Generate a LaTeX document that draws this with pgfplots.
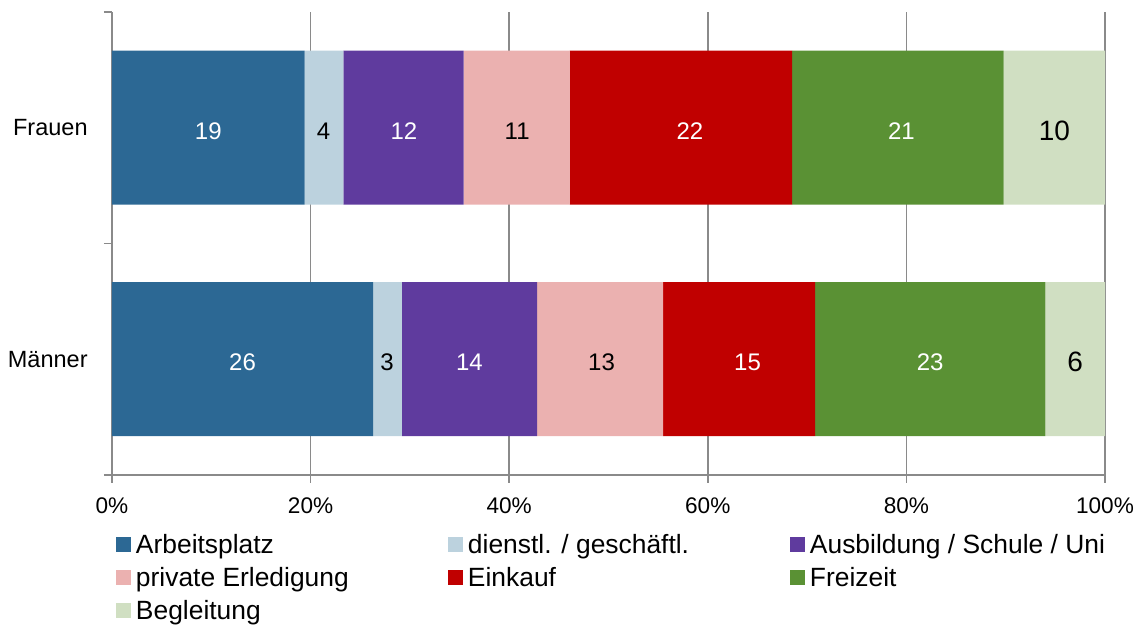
\documentclass[border=0pt]{standalone}
\usepackage{pgfplots}
\pgfplotsset{compat=1.18}
\usepackage{fontspec}
\setmainfont{Liberation Sans}
\definecolor{cArb}{RGB}{44,104,148}
\definecolor{cDie}{RGB}{188,210,222}
\definecolor{cAus}{RGB}{95,59,158}
\definecolor{cPri}{RGB}{235,177,176}
\definecolor{cEin}{RGB}{192,0,0}
\definecolor{cFre}{RGB}{90,145,52}
\definecolor{cBeg}{RGB}{208,223,194}
\definecolor{gridgray}{RGB}{138,138,138}
\begin{document}
\begin{tikzpicture}
\path[use as bounding box] (-56pt,-78pt) rectangle (515pt,237.5pt);
\begin{axis}[
  width=496.5pt, height=231.5pt, scale only axis,
  xbar stacked, bar width=77pt,
  xmin=0, xmax=100, ymin=-0.5, ymax=1.5,
  axis x line*=bottom, axis y line*=left,
  axis line style={draw=gridgray, line width=0.9pt},
  xtick={0,20,40,60,80,100},
  xticklabels={0\%,20\%,40\%,60\%,80\%,100\%},
  xmajorgrids,
  major x grid style={draw=gridgray, line width=0.9pt},
  tick align=outside, major tick length=4pt,
  major x tick style={draw=gridgray, line width=0.9pt},
  ytick={0,1}, yticklabels={Männer,Frauen},
  major y tick style={draw=none},
  minor ytick={-0.5,0.5,1.5},
  minor y tick style={draw=gridgray, line width=0.9pt},
  minor tick length=4pt,
  xticklabel style={font=\fontsize{11.3}{13}\selectfont, inner sep=0pt, anchor=north, yshift=-7pt},
  yticklabel style={font=\fontsize{11.75}{14}\selectfont, inner sep=0pt, anchor=east, xshift=-8pt},
  legend image code/.code={\fill[#1] (0pt,-3.75pt) rectangle (7.5pt,3.75pt);},
  legend style={draw=none, fill=none, inner sep=0pt, outer sep=0pt,
    at={(0,0)}, anchor=north west, xshift=2pt, yshift=-29pt,
    font=\fontsize{13.2}{15}\selectfont,
    legend columns=3, row sep=4.5pt, column sep=0pt,
    cells={anchor=west},
    nodes={inner sep=0pt, text height=10.4pt, text depth=1.6pt},
    /tikz/every odd column/.append style={column sep=2.5pt}},
]
\addplot[fill=cArb, draw=none] coordinates {(19.4,1) (26.3,0)};
\addlegendentry{\makebox[156pt][l]{Arbeitsplatz}}
\addplot[fill=cDie, draw=none] coordinates {(3.9,1) (2.9,0)};
\addlegendentry{\makebox[161pt][l]{dienstl. / geschäftl.}}
\addplot[fill=cAus, draw=none] coordinates {(12.1,1) (13.6,0)};
\addlegendentry{Ausbildung / Schule / Uni}
\addplot[fill=cPri, draw=none] coordinates {(10.7,1) (12.7,0)};
\addlegendentry{\makebox[156pt][l]{private Erledigung}}
\addplot[fill=cEin, draw=none] coordinates {(22.4,1) (15.3,0)};
\addlegendentry{\makebox[161pt][l]{Einkauf}}
\addplot[fill=cFre, draw=none] coordinates {(21.3,1) (23.2,0)};
\addlegendentry{Freizeit}
\addplot[fill=cBeg, draw=none] coordinates {(10.2,1) (6.0,0)};
\addlegendentry{Begleitung}
\end{axis}
\begin{axis}[
  width=496.5pt, height=231.5pt, scale only axis,
  xmin=0, xmax=100, ymin=-0.5, ymax=1.5,
  hide axis, clip=false,
]
\addplot[draw=none, nodes near coords, point meta=explicit symbolic,
  every node near coord/.append style={anchor=center, text=white, yshift=-1.5pt,
    font=\fontsize{12}{14}\selectfont}]
  coordinates {(9.7,1) [19] (29.4,1) [12] (58.2,1) [22] (79.5,1) [21]
               (13.15,0) [26] (36.0,0) [14] (64.0,0) [15] (82.4,0) [23]};
\addplot[draw=none, nodes near coords, point meta=explicit symbolic,
  every node near coord/.append style={anchor=center, text=black, yshift=-1.5pt,
    font=\fontsize{12}{14}\selectfont}]
  coordinates {(21.3,1) [4] (40.8,1) [11] (27.7,0) [3] (49.3,0) [13]};
\addplot[draw=none, nodes near coords, point meta=explicit symbolic,
  every node near coord/.append style={anchor=center, text=black, yshift=-1.5pt,
    font=\fontsize{14}{16}\selectfont}]
  coordinates {(94.9,1) [10] (97.0,0) [6]};
\end{axis}
\end{tikzpicture}
\end{document}
